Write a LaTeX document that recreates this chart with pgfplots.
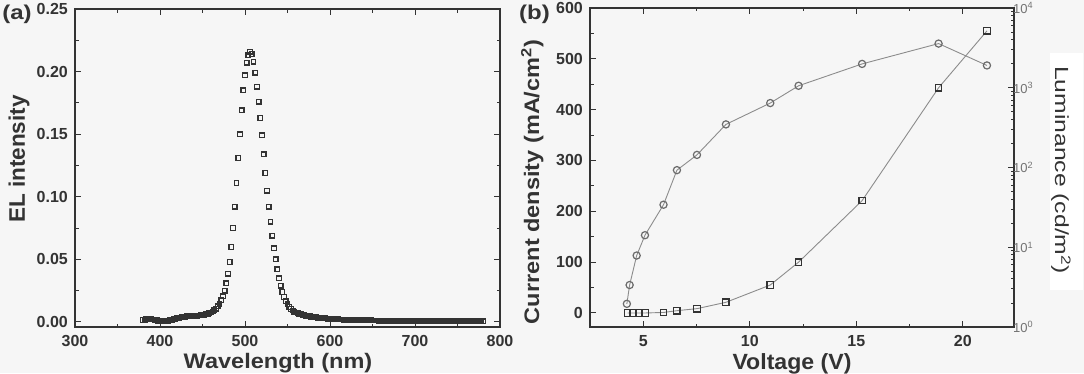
\documentclass[border=0pt]{standalone}
\usepackage{pgfplots}
\pgfplotsset{compat=1.18}
\usepackage{fontspec}
\setmainfont{Liberation Sans}
\definecolor{bg}{gray}{0.965}
\definecolor{txt}{gray}{0.2}
\definecolor{frame}{gray}{0.2}
\definecolor{mk}{gray}{0.2}
\definecolor{cir}{gray}{0.42}
\definecolor{ln}{gray}{0.55}
\pgfplotstableread{
x y
380 0.0015
382 0.0019
384 0.0023
386 0.0025
388 0.0025
390 0.0023
392 0.0020
394 0.0017
396 0.0014
398 0.0011
400 0.0009
402 0.0007
404 0.0006
406 0.0006
408 0.0008
410 0.0011
412 0.0014
414 0.0018
416 0.0022
418 0.0026
420 0.0030
422 0.0033
424 0.0036
426 0.0039
428 0.0041
430 0.0043
432 0.0045
434 0.0046
436 0.0047
438 0.0048
440 0.0049
442 0.0050
444 0.0051
446 0.0052
448 0.0054
450 0.0056
452 0.0058
454 0.0061
456 0.0065
458 0.0070
460 0.0076
462 0.0084
464 0.0094
466 0.0107
468 0.0124
470 0.0145
472 0.0172
474 0.0206
476 0.0250
478 0.0310
480 0.0385
482 0.0480
484 0.0600
486 0.0750
488 0.0920
490 0.1110
492 0.1310
494 0.1500
496 0.1690
498 0.1850
500 0.1970
502 0.2070
504 0.2130
506 0.2160
508 0.2140
510 0.2080
512 0.1990
514 0.1880
516 0.1760
518 0.1630
520 0.1490
522 0.1340
524 0.1190
526 0.1050
528 0.0920
530 0.0800
532 0.0690
534 0.0590
536 0.0500
538 0.0420
540 0.0350
542 0.0290
544 0.0240
546 0.0200
548 0.0167
550 0.0140
552 0.0120
554 0.0104
556 0.0092
558 0.0083
560 0.0076
562 0.0070
564 0.0065
566 0.0061
568 0.0057
570 0.0054
572 0.0051
574 0.0048
576 0.0045
578 0.0043
580 0.0041
582 0.0039
584 0.0037
586 0.0035
588 0.0033
590 0.0032
592 0.0030
594 0.0029
596 0.0028
598 0.0027
600 0.0026
602 0.0025
604 0.0024
606 0.0023
608 0.0022
610 0.0021
612 0.0020
614 0.0020
616 0.0019
618 0.0019
620 0.0018
622 0.0018
624 0.0017
626 0.0017
628 0.0016
630 0.0016
632 0.0015
634 0.0015
636 0.0015
638 0.0014
640 0.0014
642 0.0014
644 0.0013
646 0.0013
648 0.0013
650 0.0012
652 0.0012
654 0.0012
656 0.0012
658 0.0011
660 0.0011
662 0.0011
664 0.0011
666 0.0011
668 0.0010
670 0.0010
672 0.0010
674 0.0010
676 0.0010
678 0.0010
680 0.0009
682 0.0009
684 0.0009
686 0.0009
688 0.0009
690 0.0009
692 0.0009
694 0.0008
696 0.0009
698 0.0008
700 0.0008
702 0.0008
704 0.0008
706 0.0008
708 0.0008
710 0.0007
712 0.0008
714 0.0007
716 0.0007
718 0.0008
720 0.0007
722 0.0007
724 0.0007
726 0.0007
728 0.0008
730 0.0007
732 0.0007
734 0.0007
736 0.0006
738 0.0007
740 0.0007
742 0.0007
744 0.0006
746 0.0007
748 0.0007
750 0.0006
752 0.0007
754 0.0006
756 0.0006
758 0.0007
760 0.0006
762 0.0006
764 0.0006
766 0.0007
768 0.0006
770 0.0006
772 0.0006
774 0.0006
776 0.0006
778 0.0006
780 0.0006
}\eltable
\pgfplotstableread{
v j
4.23 18
4.36 55
4.69 113
5.08 153
5.95 213
6.58 281
7.52 311
8.88 371
10.96 413
12.29 447
15.27 490
18.86 530
21.13 487
}\circtable
\pgfplotstableread{
v j
4.26 0
4.52 0
4.78 0
5.09 0
5.95 1
6.58 4.5
7.52 8.5
8.88 21
10.96 55
12.29 100
15.27 221
18.86 443
21.13 555
}\sqtable
\pgfplotsset{
  common/.style={
    anchor=south west, scale only axis,
    tick align=inside,
    major tick length=6pt, minor tick length=3.5pt,
    every tick/.style={frame, line width=1pt},
    axis line style={frame, line width=1.4pt},
    tick label style={font=\fontsize{16}{16}\selectfont\bfseries, text=txt, inner sep=0pt},
    xticklabel style={anchor=north, yshift=-8pt},
    yticklabel style={anchor=east, xshift=-7pt},
    /pgf/number format/assume math mode=true,
    clip=false,
  }
}
\begin{document}
\begin{tikzpicture}[x=1pt,y=1pt]
\fill[bg] (0,0) rectangle (1084,373);
\fill[white] (1050,83) rectangle (1083,320);
% ---------- panel (a)
\begin{axis}[common,
  at={(75pt,46pt)}, width=425pt, height=318pt,
  xmin=300, xmax=800, ymin=-0.004, ymax=0.25,
  xtick={300,400,500,600,700,800}, minor xtick={350,450,550,650,750},
  ytick={0,0.05,0.10,0.15,0.20,0.25}, minor ytick={0.025,0.075,0.125,0.175,0.225},
  yticklabel style={/pgf/number format/fixed, /pgf/number format/fixed zerofill, /pgf/number format/precision=2},
]
\addplot[only marks, mark=square, mark size=2.3pt, mark options={draw=mk, line width=1.35pt, fill=none}] table[x=x,y=y] {\eltable};
\end{axis}
% ---------- panel (b)
\begin{axis}[common,
  at={(590pt,46pt)}, width=424pt, height=319pt,
  xmin=2.5, xmax=22.4, ymin=-27.6, ymax=600,
  xtick={5,10,15,20}, minor xtick={7.5,12.5,17.5},
  ytick={0,100,200,300,400,500,600}, minor ytick={50,150,250,350,450,550},
  ytick pos=left,
]
\addplot[color=ln, line width=0.9pt, mark=o, mark size=3.6pt, mark options={draw=cir, line width=1.2pt, fill=none}] table[x=v,y=j] {\circtable};
\addplot[color=ln, line width=0.9pt, mark=square, mark size=3.2pt, mark options={draw=mk, line width=1.3pt, fill=none}] table[x=v,y=j] {\sqtable};
\end{axis}
\begin{axis}[common,
  at={(590pt,46pt)}, width=424pt, height=319pt,
  xmin=2.5, xmax=22.4, ymode=log, ymin=1, ymax=10000,
  hide x axis, axis y line*=right,
  ytick={1,10,100,1000,10000},
  minor ytick={2,3,4,5,6,7,8,9,20,30,40,50,60,70,80,90,200,300,400,500,600,700,800,900,2000,3000,4000,5000,6000,7000,8000,9000},
  yticklabels={10\textsuperscript{0},10\textsuperscript{1},10\textsuperscript{2},10\textsuperscript{3},10\textsuperscript{4}},
  yticklabel style={font=\fontsize{13}{13}\selectfont, text=black!55, anchor=west, xshift=6pt},
]
\addplot[draw=none] coordinates {(5,10)};
\end{axis}
% ---------- texts
\node[font=\fontsize{20}{20}\selectfont\bfseries\addfontfeatures{FakeStretch=1.2}, text=txt] at (17,358.5) {(a)};
\node[font=\fontsize{20}{20}\selectfont\bfseries\addfontfeatures{FakeStretch=1.2}, text=txt] at (534.5,358.5) {(b)};
\node[font=\fontsize{22.5}{22.5}\selectfont\bfseries, text=txt, rotate=90, anchor=base] at (25,214) {EL intensity};
\node[font=\fontsize{21}{21}\selectfont\bfseries\addfontfeatures{FakeStretch=1.12}, text=txt, anchor=base] at (278,5) {Wavelength (nm)};
\node[font=\fontsize{22}{22}\selectfont\bfseries\addfontfeatures{FakeStretch=1.05}, text=txt, anchor=base] at (792,4) {Voltage (V)};
\node[font=\fontsize{21}{21}\selectfont\bfseries\addfontfeatures{FakeStretch=1.12}, text=txt, rotate=90, anchor=base] at (539,191) {Current density (mA/cm\textsuperscript{2})};
\node[font=\fontsize{19}{19}\selectfont\addfontfeatures{FakeStretch=1.3}, text=txt, rotate=-90, anchor=base] at (1055,203) {Luminance (cd/m\textsuperscript{2})};
\pgfresetboundingbox
\useasboundingbox (0,0) rectangle (1084,373);
\end{tikzpicture}
\end{document}
